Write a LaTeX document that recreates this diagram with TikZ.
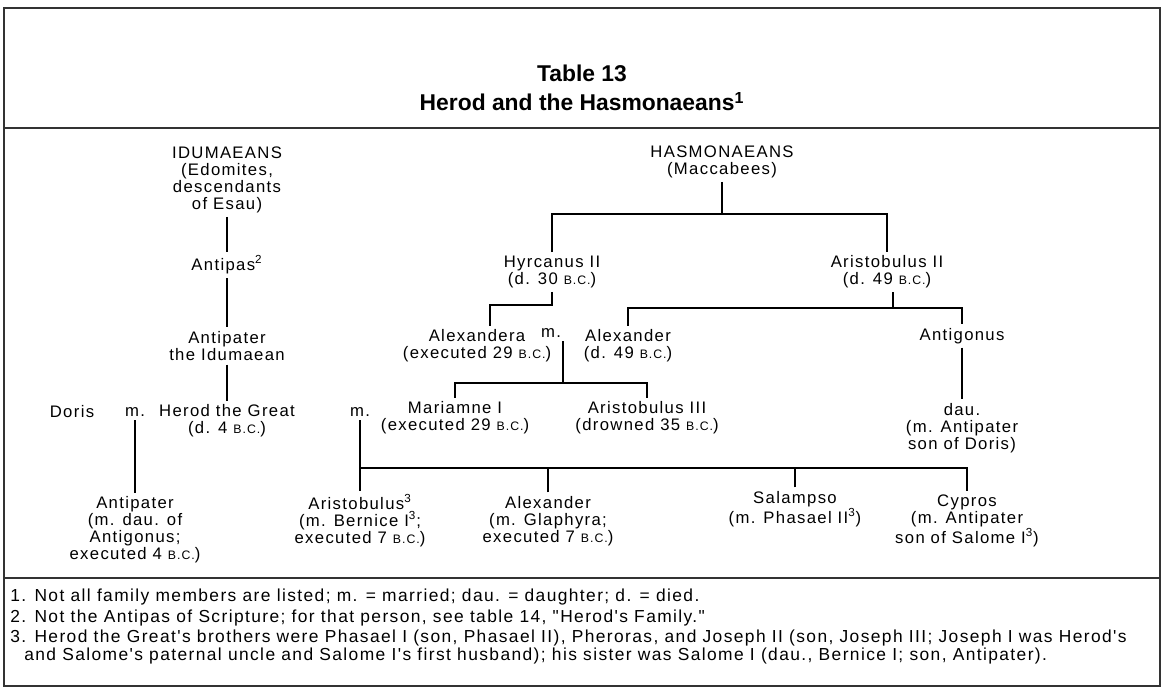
\documentclass[tikz,border=0pt]{standalone}
\usepackage{fontspec}
\setmainfont{Liberation Sans}
\newfontfamily\chartfont{Liberation Sans}[LetterSpace=8]
\usetikzlibrary{positioning}
\newcommand{\BC}{{\fontsize{7}{7}\selectfont B.C.}}
\newcommand{\fnm}[1]{\textsuperscript{#1}}

\begin{document}
\begin{tikzpicture}[x=0.02cm, y=-0.02cm,
    person/.style={align=center, inner sep=2pt, font=\chartfont\fontsize{9.5}{9.7}\selectfont},
    note/.style={anchor=west, align=left, inner sep=0pt, font=\chartfont\fontsize{9.9}{8.8}\selectfont},
    link/.style={line width=0.6pt},
    rule/.style={line width=1.1pt, black!80}]
    \useasboundingbox (0,0) rectangle (1163,689);
    \fill[white] (0,0) rectangle (1163,689);
    \draw[rule] (4,8) rectangle (1160,686);
    \draw[rule] (4,128) -- (1160,128);
    \draw[rule] (4,578) -- (1160,578);
    \node[align=center, font=\bfseries\fontsize{13}{16.5}\selectfont] (title) at (582,88)
        {Table 13\\Herod and the Hasmonaeans\fnm{1}};

    % Idumaean side
    \node[person] (idum) at (227,180) {IDUMAEANS\\(Edomites,\\descendants\\of Esau)};
    \node[person] (antipas) at (227,265) {Antipas\fnm{2}};
    \node[person] (antip) at (227,346) {Antipater\\the Idumaean};
    \node[person] (herod) at (227,421) {Herod the Great\\(d. 4 \BC)};
    \node[person] (doris) at (72,412) {Doris};
    \node[person] (mdoris) at (135,412) {m.};
    \node[person] (mmar) at (360,412) {m.};
    \node[person] (antipson) at (135,530) {Antipater\\(m. dau. of\\Antigonus;\\executed 4 \BC)};
    \draw[link] (idum) -- (antipas);
    \draw[link] (antipas) -- (antip);
    \draw[link] (antip) -- (herod);
    \draw[link] (mdoris) -- (antipson);

    % Hasmonaean side
    \node[person] (hasm) at (722,162) {HASMONAEANS\\(Maccabees)};
    \node[person] (hyrc) at (552,272) {Hyrcanus II\\(d. 30 \BC)};
    \node[person] (arist2) at (887,272) {Aristobulus II\\(d. 49 \BC)};
    \node[person] (alexa) at (477,346) {Alexandera\\(executed 29 \BC)};
    \node[person] (malex) at (551,333) {m.};
    \node[person] (alexr) at (628,346) {Alexander\\(d. 49 \BC)};
    \node[person] (antig) at (962,336) {Antigonus};
    \node[person] (dau) at (962,428) {dau.\\(m. Antipater\\son of Doris)};
    \node[person] (mariamne) at (455,418) {Mariamne I\\(executed 29 \BC)};
    \node[person] (arist3) at (647,418) {Aristobulus III\\(drowned 35 \BC)};
    \coordinate (hbar) at (722,214);
    \coordinate (hyrcbar) at (490,305);
    \coordinate (abar) at (893,308);
    \coordinate (mbar) at (563,383);
    \draw[link] (hasm) -- (hbar);
    \draw[link] (hyrc) |- (hbar) -| (arist2);
    \draw[link] (hyrc) |- (hyrcbar) -- (hyrcbar |- alexa.north);
    \draw[link] (abar |- arist2.south) -- (abar);
    \draw[link] (alexr) |- (abar) -| (antig);
    \draw[link] (mbar |- malex.south) -- (mbar);
    \draw[link] (mariamne) |- (mbar) -| (arist3);
    \draw[link] (antig) -- (dau);

    % children of Herod and Mariamne
    \node[person] (aristob) at (360,521) {Aristobulus\fnm{3}\\(m. Bernice I\fnm{3};\\executed 7 \BC)};
    \node[person] (alexb) at (548,521) {Alexander\\(m. Glaphyra;\\executed 7 \BC)};
    \node[person] (salam) at (795,509) {Salampso\\(m. Phasael II\fnm{3})};
    \node[person] (cypros) at (967,521) {Cypros\\(m. Antipater\\son of Salome I\fnm{3})};
    \coordinate (cbar) at (360,468);
    \draw[link] (mmar) -- (aristob);
    \draw[link] (cbar) -| (cypros);
    \draw[link] (alexb) -- (alexb |- cbar);
    \draw[link] (salam) -- (salam |- cbar);

    % notes
    \node[note] (fn1) at (10,597) {1. Not all family members are listed; m. = married; dau. = daughter; d. = died.};
    \node[note] (fn2) at (10,618) {2. Not the Antipas of Scripture; for that person, see table 14, "Herod's Family."};
    \node[note] (fn3) at (10,647) {3. Herod the Great's brothers were Phasael I (son, Phasael II), Pheroras, and Joseph II (son, Joseph III; Joseph I was Herod's\\
        \hspace*{0.8em}and Salome's paternal uncle and Salome I's first husband); his sister was Salome I (dau., Bernice I; son, Antipater).};
\end{tikzpicture}
\end{document}
